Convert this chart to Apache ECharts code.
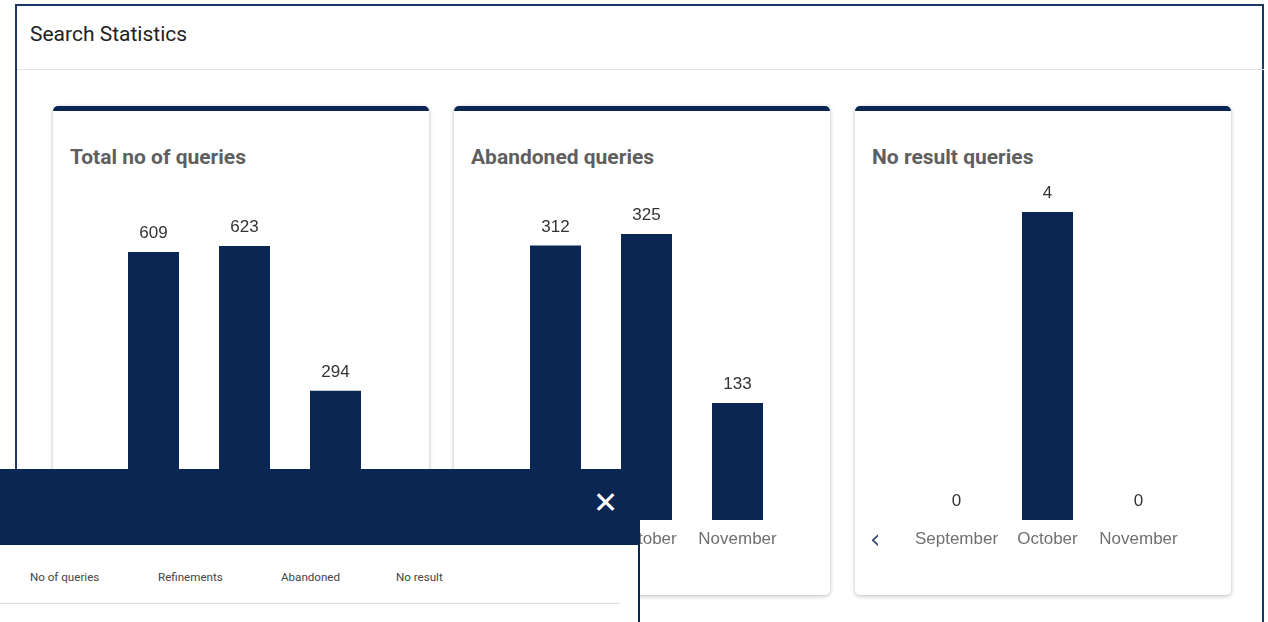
<!DOCTYPE html>
<html>
<head>
<meta charset="utf-8">
<script src="https://cdn.jsdelivr.net/npm/echarts@6/dist/echarts.min.js"></script>
<style>
  html, body { margin:0; padding:0; width:1268px; height:622px; overflow:hidden; background:#fff; font-family: Roboto, "Noto Sans", sans-serif; }
  #panel { position:absolute; left:15px; top:4px; width:1249px; height:700px; border:2px solid #1c3866; background:#fff; box-sizing:border-box; }
  #panelTitle { position:absolute; left:30px; top:22px; font-size:21px; color:#222; font-family:Roboto, sans-serif; }
  #sep { position:absolute; left:17px; top:69px; width:1247px; height:1px; background:#e3e3e3; }
  .card { position:absolute; top:106px; width:376px; height:489px; background:#fff; border-top:5px solid #0a2754; border-radius:5px; box-shadow:0 1px 4px rgba(0,0,0,0.28); box-sizing:border-box; }
  .cardTitle { position:absolute; left:17px; top:34px; font-size:21px; font-weight:bold; color:#5f5f5f; font-family:Roboto, sans-serif; }
  #chart { position:absolute; left:0; top:0; width:1268px; height:622px; }
  #prev { position:absolute; left:870px; top:524px; font-size:26px; color:#3d4f6e; font-family:"DejaVu Sans", sans-serif; }
  #dialog { position:absolute; left:0; top:469px; width:640px; height:200px; background:#fff; border-right:2px solid #0a2754; box-sizing:border-box; }
  #dlgHead { position:absolute; left:0; top:0; width:638px; height:76px; background:#0a2754; }
  #close { position:absolute; left:593px; top:16px; font-size:30px; color:#fff; font-family:"DejaVu Sans", sans-serif; }
  .tab { position:absolute; top:101px; font-size:11.6px; color:#444; font-family:Roboto, sans-serif; }
  #dlgLine { position:absolute; left:0; top:134px; width:620px; height:1px; background:#dcdcdc; }
</style>
</head>
<body>
<div id="panel"></div>
<div id="panelTitle">Search Statistics</div>
<div id="sep"></div>
<div class="card" style="left:53px"><div class="cardTitle">Total no of queries</div></div>
<div class="card" style="left:454px"><div class="cardTitle">Abandoned queries</div></div>
<div class="card" style="left:855px"><div class="cardTitle">No result queries</div></div>
<div id="chart"></div>
<div id="prev">‹</div>
<div id="dialog">
  <div id="dlgHead"><div id="close">✕</div></div>
  <div class="tab" style="left:30px">No of queries</div>
  <div class="tab" style="left:158px">Refinements</div>
  <div class="tab" style="left:281px">Abandoned</div>
  <div class="tab" style="left:396px">No result</div>
  <div id="dlgLine"></div>
</div>
<script>
const months = ["September", "October", "November"];
const totalQueries = [609, 623, 294];
const abandonedQueries = [312, 325, 133];
const noResultQueries = [0, 4, 0];

const chart = echarts.init(document.getElementById('chart'), null, { renderer: 'canvas' });
const gridLefts = [108, 510, 911];
const seriesData = [totalQueries, abandonedQueries, noResultQueries];
const barColor = '#0a2754';

const option = {
  animation: false,
  backgroundColor: 'transparent',
  grid: gridLefts.map(l => ({ left: l, top: 212, width: 273, height: 308, containLabel: false })),
  xAxis: gridLefts.map((l, i) => ({
    type: 'category', gridIndex: i, data: months,
    axisLine: { show: false }, axisTick: { show: false },
    axisLabel: { interval: 0, hideOverlap: false, color: '#707070', fontSize: 17, margin: 11, fontFamily: 'Liberation Sans, Arial, sans-serif' }
  })),
  yAxis: gridLefts.map((l, i) => ({
    type: 'value', gridIndex: i, show: false, splitLine: { show: false }
  })),
  series: seriesData.map((d, i) => ({
    type: 'bar', xAxisIndex: i, yAxisIndex: i, data: d,
    barWidth: 51,
    itemStyle: { color: barColor },
    label: { show: true, position: 'top', distance: 10, color: '#333', fontSize: 17, fontFamily: 'Liberation Sans, Arial, sans-serif' }
  }))
};
chart.setOption(option);
</script>
</body>
</html>
